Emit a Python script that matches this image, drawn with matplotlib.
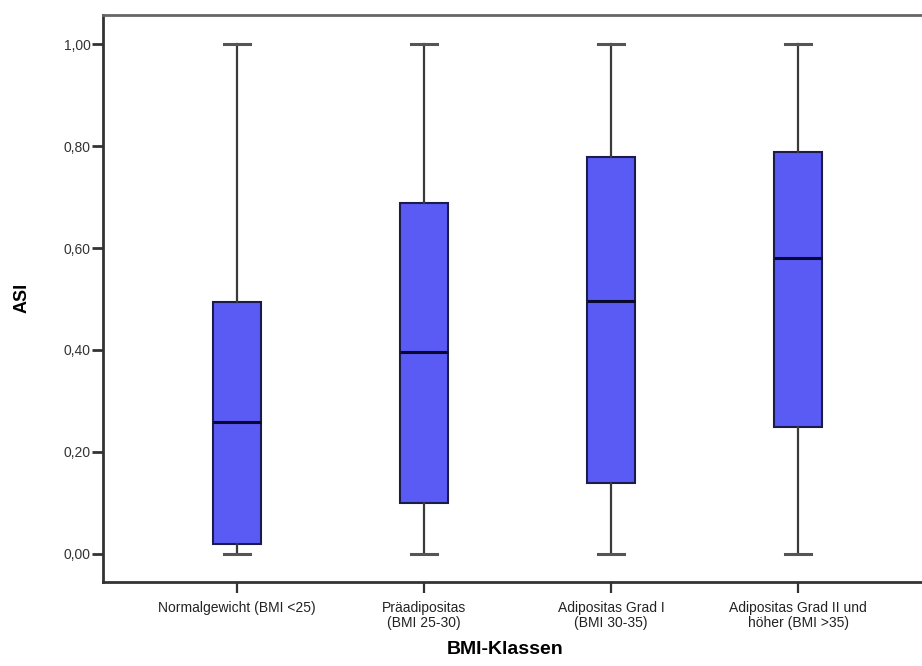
import matplotlib
matplotlib.use('Agg')
import matplotlib.pyplot as plt

# BMI classes and box statistics of the ASI score
categories = ['Normalgewicht (BMI <25)', 'Präadipositas\n(BMI 25-30)',
              'Adipositas Grad I\n(BMI 30-35)', 'Adipositas Grad II und\nhöher (BMI >35)']
whisker_low = [0.0, 0.0, 0.0, 0.0]
q1 = [0.019, 0.10, 0.139, 0.249]
median = [0.258, 0.396, 0.496, 0.580]
q3 = [0.495, 0.688, 0.778, 0.788]
whisker_high = [1.0, 1.0, 1.0, 1.0]
y_ticks = [0.0, 0.2, 0.4, 0.6, 0.8, 1.0]
y_labels = ['0,00', '0,20', '0,40', '0,60', '0,80', '1,00']

plt.rcParams['font.family'] = ['Liberation Sans', 'DejaVu Sans']

fig = plt.figure(figsize=(9.22, 6.66), dpi=100)
ax = fig.add_axes([103 / 922, 84 / 666, 819 / 922, 567 / 666])

stats = []
for i in range(len(categories)):
    stats.append({'whislo': whisker_low[i], 'q1': q1[i], 'med': median[i],
                  'q3': q3[i], 'whishi': whisker_high[i], 'fliers': []})

ax.bxp(stats, positions=[1, 2, 3, 4], widths=0.257, patch_artist=True,
       showfliers=False,
       boxprops=dict(facecolor='#5a5af5', edgecolor='#1c1c4a', linewidth=1.5),
       medianprops=dict(color='#0a0a30', linewidth=2.2),
       whiskerprops=dict(color='#3a3a3a', linewidth=1.6),
       capprops=dict(color='#555555', linewidth=2.2),
       capwidths=0.134)

ax.set_xlim(1 - 134 / 187, 4 + 124 / 187)
ax.set_ylim(-0.055, 1.057)

ax.set_yticks(y_ticks)
ax.set_yticklabels(y_labels)
ax.set_xticks([1, 2, 3, 4])
ax.set_xticklabels(categories, linespacing=1.05)

ax.tick_params(axis='y', direction='out', length=8, width=2, color='#333333',
               labelsize=10, labelcolor='#333333', pad=1)
ax.tick_params(axis='x', direction='out', length=8, width=1.6, color='#333333',
               labelsize=10, labelcolor='#222222', pad=6)

ax.spines['right'].set_visible(False)
ax.spines['left'].set_color('#333333')
ax.spines['left'].set_linewidth(2)
ax.spines['bottom'].set_color('#333333')
ax.spines['bottom'].set_linewidth(2)
ax.spines['top'].set_color('#666666')
ax.spines['top'].set_linewidth(2)

ax.set_ylabel('ASI', fontsize=13, fontweight='bold')
ax.yaxis.set_label_coords(-(103 - 31) / 819, (582 - 298) / 567)
ax.set_xlabel('BMI-Klassen', fontsize=14, fontweight='bold')
ax.xaxis.set_label_coords((505 - 103) / 819, -(641 - 582) / 567)

fig.savefig('out.png', dpi=100, facecolor='white')
